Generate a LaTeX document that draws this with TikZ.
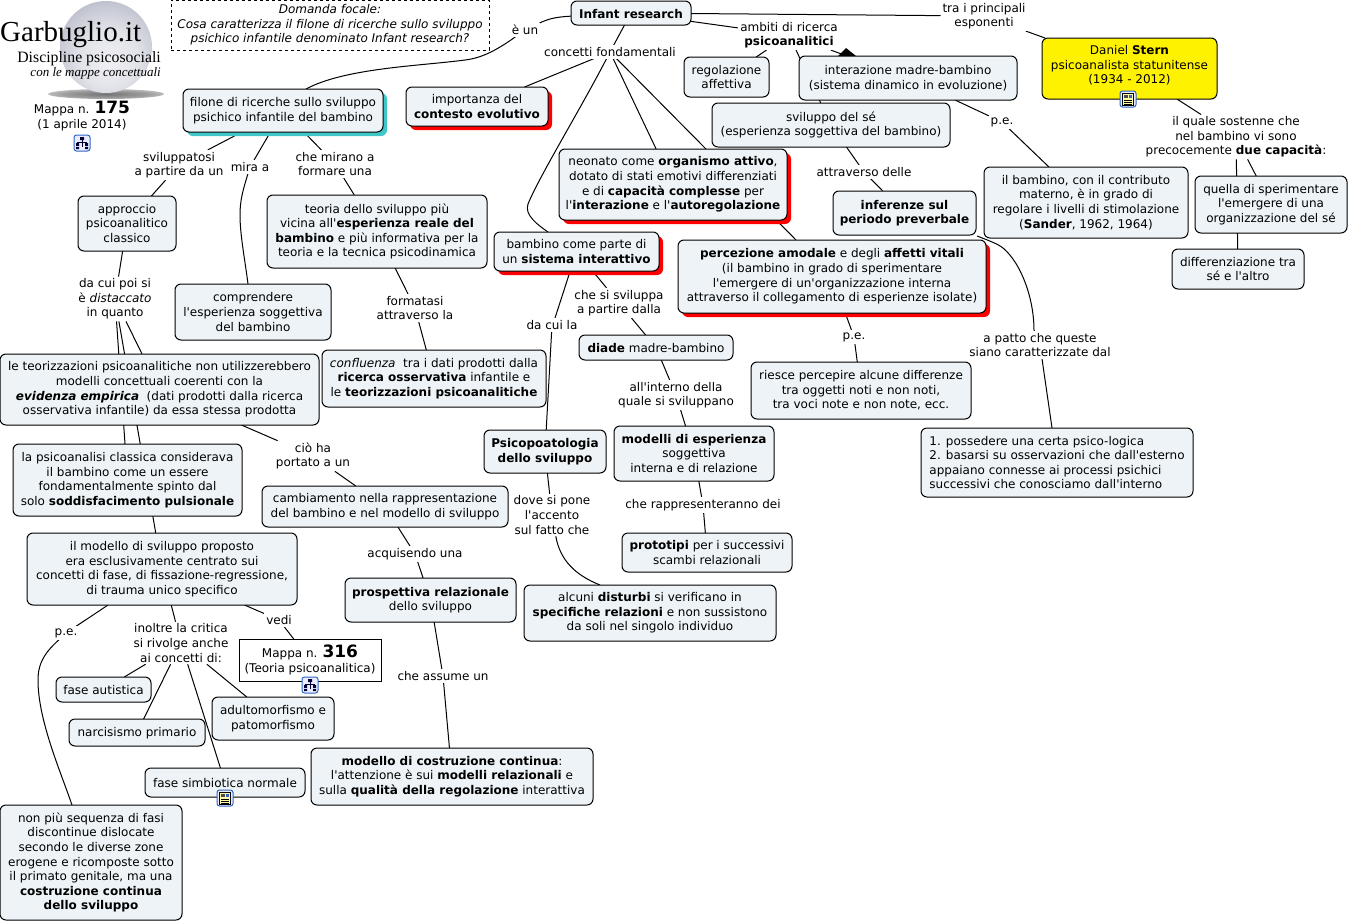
\documentclass[tikz,border=0pt]{standalone}
\usepackage{fontspec}
\newfontfamily\bodyfont{DejaVu Sans}
\newfontfamily\logofont{Liberation Serif}
\usetikzlibrary{shadows,arrows.meta}
\pgfdeclarelayer{bg}
\pgfdeclarelayer{logo}
\pgfsetlayers{logo,bg,main}
\definecolor{boxfill}{HTML}{EDF3F6}
\definecolor{teal}{HTML}{3FC6C6}
\definecolor{iconblue}{HTML}{2F66C4}
\definecolor{sa}{HTML}{F0F0F3}
\definecolor{sb}{HTML}{E2E3E9}
\definecolor{sc}{HTML}{C4C6D2}
\definecolor{sd}{HTML}{9A9EB4}
\definecolor{se}{HTML}{7A7E92}
\definecolor{sf}{HTML}{6E7286}
\pgfdeclareradialshading{sph}{\pgfpoint{2bp}{-9bp}}{color(0bp)=(sa);color(16bp)=(sb);color(28bp)=(sc);color(40bp)=(sd);color(50bp)=(se);color(59bp)=(sf)}
\pgfdeclareradialshading{shd}{\pgfpoint{0bp}{0bp}}{color(0bp)=(black!55!white);color(18bp)=(black!38!white);color(35bp)=(black!12!white);color(50bp)=(white)}
\newcommand{\mainfs}{\bodyfont\fontsize{12}{14.6}\selectfont}
\newcommand{\firststrut}{\leavevmode\rule{0pt}{10.8pt}}
\tikzset{
  x=1pt,y=-1pt,
  bb/.style n args={4}{minimum width=#3pt-#1pt,minimum height=#4pt-#2pt,at={({(#1+#3)/2},{(#2+#4)/2})}},
  cbox/.style={draw=black,fill=boxfill,line width=1pt,rounded corners=6pt,align=center,inner sep=0pt,outer sep=0pt,font=\mainfs,execute at begin node=\firststrut},
  redbox/.style={cbox,drop shadow={shadow xshift=4pt,shadow yshift=-4pt,fill=red,opacity=1}},
  tealbox/.style={cbox,drop shadow={shadow xshift=4pt,shadow yshift=-4pt,fill=teal,opacity=1}},
  lab/.style={fill=white,align=center,inner sep=2pt,outer sep=0pt,font=\mainfs,yshift=-1pt},
  edge/.style={draw=black,line width=1pt},
  pics/mapicon/.style={code={
    \draw[draw=iconblue,fill=blue!8!white,line width=1pt,rounded corners=2.5pt] (-8,-8) rectangle (8,8);
    \fill[black!80!blue] (-2,-6) rectangle (2,-3) (-6,0) rectangle (-3,3) (3,0) rectangle (6,3) (-6,4) rectangle (-3,6) (3,4) rectangle (6,6);
    \draw[black!80!blue,line width=.7pt] (0,-3) -- (0,4) (-4.5,-1) -- (4.5,-1) (-4.5,-1) -- (-4.5,1) (4.5,-1) -- (4.5,1);
  }},
  pics/docicon/.style={code={
    \draw[draw=iconblue,fill=blue!8!white,line width=1pt,rounded corners=2.5pt] (-8,-8) rectangle (8,8);
    \draw[fill=yellow!35!white,draw=black,line width=.6pt] (-5.5,-6) rectangle (5.5,6);
    \fill[black!70!white] (-4,-4.5) rectangle (-.5,-1);
    \fill[iconblue] (.5,-4.5) rectangle (4,-1);
    \draw[black,line width=.6pt] (-4,1) -- (4,1) (-4,3) -- (4,3) (-4,5) -- (4,5);
  }}
}
\begin{document}
\begin{tikzpicture}
\useasboundingbox (0,0) rectangle (1350,924);
\begin{pgfonlayer}{logo}
\shade[shading=shd] (106,94) ellipse (58 and 5);
\shade[shading=sph] (106,47) circle (46);
\end{pgfonlayer}
% logo
\node[font=\logofont\fontsize{29}{30}\selectfont,inner sep=0pt,anchor=base west] (lg1) at (0,41) {Garbuglio.it};
\node[font=\logofont\fontsize{15.8}{17}\selectfont,inner sep=0pt,anchor=base east] (lg2) at (161,62) {Discipline psicosociali};
\node[font=\logofont\itshape\fontsize{13}{14}\selectfont,inner sep=0pt,anchor=base east] (lg3) at (161,76) {con le mappe concettuali};
\node[font=\mainfs,align=center,inner sep=0pt] (map175) at (82,116) {Mappa n. {\fontsize{17}{14.6}\selectfont\textbf{175}}\\(1 aprile 2014)};
\pic at (82,143) {mapicon};
% focal question
\node[draw=black,dashed,line width=.8pt,bb={171}{0}{489}{50},align=center,inner sep=0pt,font=\mainfs\itshape,execute at begin node=\firststrut] (dom) {Domanda focale:\\Cosa caratterizza il filone di ricerche sullo sviluppo\\psichico infantile denominato Infant research?};
% boxes
\node[cbox,bb={571}{1}{691}{25}] (inf) {\textbf{Infant research}};
\node[tealbox,bb={183}{89}{383}{132}] (fil) {filone di ricerche sullo sviluppo\\psichico infantile del bambino};
\node[redbox,bb={406}{87}{548}{126}] (imp) {importanza del\\\textbf{contesto evolutivo}};
\node[cbox,bb={684}{57}{769}{97}] (reg) {regolazione\\affettiva};
\node[cbox,bb={799}{56}{1017}{100}] (int) {interazione madre-bambino\\(sistema dinamico in evoluzione)};
\node[cbox,bb={712}{103}{950}{147}] (svi) {sviluppo del sé\\(esperienza soggettiva del bambino)};
\node[cbox,fill=yellow,bb={1042}{38}{1217}{99},text depth=8pt] (ste) {Daniel \textbf{Stern}\\psicoanalista statunitense\\(1934 - 2012)};
\node[redbox,bb={559}{149}{787}{220}] (neo) {neonato come \textbf{organismo attivo},\\dotato di stati emotivi differenziati\\e di \textbf{capacità complesse} per\\l'\textbf{interazione} e l'\textbf{autoregolazione}};
\node[cbox,bb={833}{191}{976}{235}] (infz) {\textbf{inferenze sul}\\\textbf{periodo preverbale}};
\node[cbox,bb={984}{167}{1188}{238}] (san) {il bambino, con il contributo\\materno, è in grado di\\regolare i livelli di stimolazione\\(\textbf{Sander}, 1962, 1964)};
\node[cbox,bb={1195}{176}{1347}{233}] (que) {quella di sperimentare\\l'emergere di una\\organizzazione del sé};
\node[cbox,bb={1172}{249}{1304}{289}] (dif) {differenziazione tra\\sé e l'altro};
\node[redbox,bb={678}{240}{986}{313}] (per) {\textbf{percezione amodale} e degli \textbf{affetti vitali}\\(il bambino in grado di sperimentare\\l'emergere di un'organizzazione interna\\attraverso il collegamento di esperienze isolate)};
\node[redbox,bb={494}{232}{659}{271}] (bam) {bambino come parte di\\un \textbf{sistema interattivo}};
\node[cbox,bb={267}{195}{487}{268}] (teo) {teoria dello sviluppo più\\vicina all'\textbf{esperienza reale del}\\\textbf{bambino} e più informativa per la\\teoria e la tecnica psicodinamica};
\node[cbox,bb={78}{196}{176}{251}] (app) {approccio\\psicoanalitico\\classico};
\node[cbox,bb={175}{284}{331}{340}] (com) {comprendere\\l'esperienza soggettiva\\del bambino};
\node[cbox,bb={0}{354}{319}{425}] (tez) {le teorizzazioni psicoanalitiche non utilizzerebbero\\modelli concettuali coerenti con la\\\textbf{\textit{evidenza empirica}}~ (dati prodotti dalla ricerca\\osservativa infantile) da essa stessa prodotta};
\node[cbox,bb={322}{350}{546}{407}] (con) {\textit{confluenza}~ tra i dati prodotti dalla\\\textbf{ricerca osservativa} infantile e\\le \textbf{teorizzazioni psicoanalitiche}};
\node[cbox,bb={579}{335}{733}{360}] (dia) {\textbf{diade} madre-bambino};
\node[cbox,bb={751}{362}{971}{419}] (rie) {riesce percepire alcune differenze\\tra oggetti noti e non noti,\\tra voci note e non note, ecc.};
\node[cbox,align=left,bb={921}{428}{1193}{497}] (pos) {1. possedere una certa psico-logica\\2. basarsi su osservazioni che dall'esterno\\appaiano connesse ai processi psichici\\successivi che conosciamo dall'interno};
\node[cbox,bb={484}{430}{606}{473}] (psi) {\textbf{Psicopoatologia}\\\textbf{dello sviluppo}};
\node[cbox,bb={614}{426}{774}{481}] (mod) {\textbf{modelli di esperienza}\\soggettiva\\interna e di relazione};
\node[cbox,bb={622}{533}{792}{572}] (pro) {\textbf{prototipi} per i successivi\\scambi relazionali};
\node[cbox,bb={13}{444}{242}{516}] (cla) {la psicoanalisi classica considerava\\il bambino come un essere\\fondamentalmente spinto dal\\solo \textbf{soddisfacimento pulsionale}};
\node[cbox,bb={262}{486}{508}{527}] (cam) {cambiamento nella rappresentazione\\del bambino e nel modello di sviluppo};
\node[cbox,bb={27}{533}{297}{605}] (msv) {il modello di sviluppo proposto\\era esclusivamente centrato sui\\concetti di fase, di fissazione-regressione,\\di trauma unico specifico};
\node[cbox,bb={345}{578}{516}{622}] (rel) {\textbf{prospettiva relazionale}\\dello sviluppo};
\node[cbox,bb={524}{585}{776}{641}] (dis) {alcuni \textbf{disturbi} si verificano in\\\textbf{specifiche relazioni} e non sussistono\\da soli nel singolo individuo};
\node[cbox,fill=white,rounded corners=0pt,bb={239}{639}{381}{681}] (m316) {Mappa n. {\fontsize{17}{14.6}\selectfont\textbf{316}}\\(Teoria psicoanalitica)};
\node[cbox,bb={56}{677}{151}{702}] (aut) {fase autistica};
\node[cbox,bb={69}{719}{205}{746}] (nar) {narcisismo primario};
\node[cbox,bb={212}{697}{334}{740}] (adu) {adultomorfismo e\\patomorfismo};
\node[cbox,bb={145}{768}{305}{797}] (sim) {fase simbiotica normale};
\node[cbox,bb={311}{748}{593}{805}] (cos) {\textbf{modello di costruzione continua}:\\l'attenzione è sui \textbf{modelli relazionali} e\\sulla \textbf{qualità della regolazione} interattiva};
\node[cbox,bb={0}{805}{182}{920}] (non) {non più sequenza di fasi\\discontinue dislocate\\secondo le diverse zone\\erogene e ricomposte sotto\\il primato genitale, ma una\\\textbf{costruzione continua}\\\textbf{dello sviluppo}};
\pic at (1128,99) {docicon};
\pic at (310,685) {mapicon};
\pic at (225,798) {docicon};
% labels
\node[lab] (eun) at (525,29) {è un};
\node[lab] (cf) at (610,51) {concetti fondamentali};
\node[lab] (amb) at (789,34) {ambiti di ricerca\\\textbf{psicoanalitici}};
\node[lab] (tra) at (984,15) {tra i principali\\esponenti};
\node[lab] (lsv) at (179,164) {sviluppatosi\\a partire da un};
\node[lab] (lmi) at (250,166) {mira a};
\node[lab] (lfo) at (335,163) {che mirano a\\formare una};
\node[lab] (lcu) at (115,298) {da cui poi si\\è \textit{distaccato}\\in quanto};
\node[lab] (lfm) at (415,307) {formatasi\\attraverso la};
\node[lab] (lci) at (313,455) {ciò ha\\portato a un};
\node[lab] (lac) at (415,553) {acquisendo una};
\node[lab] (las) at (443,675) {che assume un};
\node[lab] (lve) at (279,619) {vedi};
\node[lab] (lpe) at (66,632) {p.e.};
\node[lab] (lin) at (181,642) {inoltre la critica\\si rivolge anche\\ai concetti di:};
\node[lab] (ldc) at (552,324) {da cui la};
\node[lab] (lcs) at (619,302) {che si sviluppa\\a partire dalla};
\node[lab] (lal) at (676,394) {all'interno della\\quale si sviluppano};
\node[lab] (lcr) at (703,504) {che rappresenteranno dei};
\node[lab] (ldo) at (552,514) {dove si pone\\l'accento\\sul fatto che};
\node[lab] (lat) at (864,171) {attraverso delle};
\node[lab] (lp1) at (1002,121) {p.e.};
\node[lab] (lqu) at (1236,136) {il quale sostenne che\\nel bambino vi sono\\precocemente \textbf{due capacità}:};
\node[lab] (lp2) at (854,336) {p.e.};
\node[lab] (lpa) at (1040,344) {a patto che queste\\siano caratterizzate dal};
% curve waypoints
\coordinate (w1) at (465,60);
\coordinate (w2) at (306,89);
\coordinate (w3) at (528,204);
\coordinate (w4) at (548,232);
\coordinate (w5) at (240,215);
\coordinate (w6) at (248,284);
\coordinate (w7) at (1003,248);
\coordinate (w8) at (977,236);
\coordinate (w9) at (38,680);
\coordinate (w10) at (72,805);
\coordinate (w11) at (600,585);
\coordinate (w12) at (1034,330);
\coordinate (w13) at (846,48);
\coordinate (w14) at (838,56);
\coordinate (w15) at (856,56);
\coordinate (w16) at (555,318);
\begin{pgfonlayer}{bg}
\draw[edge] (inf) .. controls (555,17) and (548,19) .. (eun);
\draw[edge] (eun) .. controls (497,50) and (482,58) .. (w1) .. controls (420,66) and (345,68) .. (w2);
\draw[edge] (inf) -- (cf);
\draw[edge] (cf) -- (imp);
\draw[edge] (cf) -- (neo);
\draw[edge] (cf) -- (per);
\draw[edge] (cf) .. controls (580,110) and (540,175) .. (w3) .. controls (524,215) and (538,225) .. (w4);
\draw[edge] (inf) -- (amb);
\draw[edge] (amb) -- (reg);
\draw[edge] (amb) -- (int);
\draw[edge] (amb) -- (svi);
\fill[black] (w13) -- (w14) -- (w15) -- cycle;
\draw[edge] (inf) -- (tra);
\draw[edge] (tra) -- (ste);
\draw[edge] (int) -- (lp1);
\draw[edge] (lp1) -- (san);
\draw[edge] (svi) -- (lat);
\draw[edge] (lat) -- (infz);
\draw[edge] (w8) .. controls (990,241) and (998,244) .. (w7) .. controls (1022,264) and (1034,300) .. (w12) -- (lpa);
\draw[edge] (lpa) -- (pos);
\draw[edge] (per) -- (lp2);
\draw[edge] (lp2) -- (rie);
\draw[edge] (ste) -- (lqu);
\draw[edge] (lqu) -- (que);
\draw[edge] (lqu) -- (dif);
\draw[edge] (fil) -- (lsv);
\draw[edge] (fil) -- (lmi);
\draw[edge] (fil) -- (lfo);
\draw[edge] (lsv) -- (app);
\draw[edge] (lmi) .. controls (243,190) and (240,200) .. (w5) .. controls (240,235) and (245,260) .. (w6);
\draw[edge] (lfo) -- (teo);
\draw[edge] (app) -- (lcu);
\draw[edge] (lcu) -- (tez);
\draw[edge] (lcu) -- (cla);
\draw[edge] (lcu) -- (msv);
\draw[edge] (tez) -- (lci);
\draw[edge] (lci) -- (cam);
\draw[edge] (teo) -- (lfm);
\draw[edge] (lfm) -- (con);
\draw[edge] (cam) -- (lac);
\draw[edge] (lac) -- (rel);
\draw[edge] (rel) -- (las);
\draw[edge] (las) -- (cos);
\draw[edge] (msv) -- (lve);
\draw[edge] (lve) -- (m316);
\draw[edge] (msv) -- (lin);
\draw[edge] (lin) -- (aut);
\draw[edge] (lin) -- (nar);
\draw[edge] (lin) -- (sim);
\draw[edge] (lin) -- (adu);
\draw[edge] (msv) -- (lpe);
\draw[edge] (lpe) .. controls (48,650) and (38,660) .. (w9) .. controls (38,720) and (60,770) .. (w10);
\draw[edge] (bam) -- (w16);
\draw[edge] (ldc) -- (psi);
\draw[edge] (bam) -- (lcs);
\draw[edge] (lcs) -- (dia);
\draw[edge] (dia) -- (lal);
\draw[edge] (lal) -- (mod);
\draw[edge] (mod) -- (lcr);
\draw[edge] (lcr) -- (pro);
\draw[edge] (psi) -- (ldo);
\draw[edge] (ldo) .. controls (560,560) and (575,575) .. (w11);
\end{pgfonlayer}
\end{tikzpicture}
\end{document}
